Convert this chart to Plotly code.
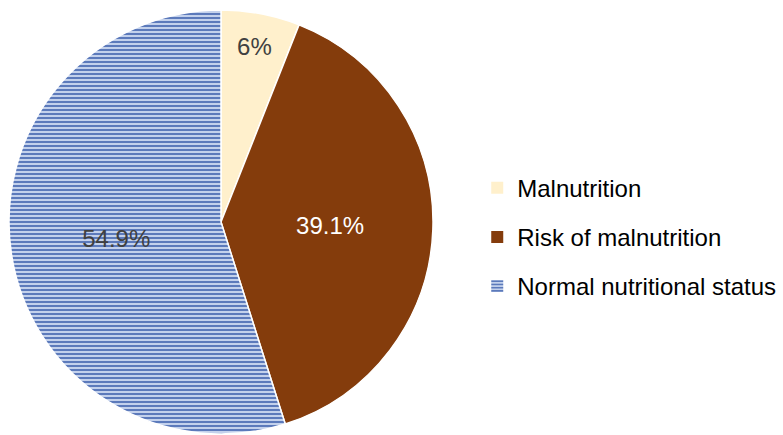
import plotly.graph_objects as go

labels = ["Malnutrition", "Risk of malnutrition", "Normal nutritional status"]
values = [6.0, 39.1, 54.9]
text_labels = ["6%", "39.1%", "54.9%"]

colors = ["#FFF0CC", "#843C0C", "#A9BCE0"]
text_colors = ["#404040", "#FFFFFF", "#404040"]
pattern_shapes = ["", "", "-"]

FONT = "Liberation Sans, Arial"
PAT = dict(fgcolor="#2F55A6", bgcolor="#C3D1EC", size=4, solidity=0.35, fillmode="replace")

fig = go.Figure()
fig.add_trace(go.Pie(
    labels=labels,
    values=values,
    text=text_labels,
    textinfo="text",
    textposition="inside",
    insidetextorientation="horizontal",
    sort=False,
    direction="clockwise",
    rotation=0,
    showlegend=False,
    marker=dict(
        colors=colors,
        line=dict(color="white", width=1.5),
        pattern=dict(shape=pattern_shapes, **PAT),
    ),
    textfont=dict(family=FONT, size=24, color=text_colors),
    domain=dict(x=[9 / 783, 433 / 783], y=[1 / 435, 425 / 435]),
    hoverinfo="label+percent",
))

# legend entries (one group per category so that the gap can be set)
for lab, col, shp in zip(labels, colors, pattern_shapes):
    fig.add_trace(go.Bar(
        x=[None], y=[None], name=lab, legendgroup=lab,
        marker=dict(color=col, line=dict(width=0), pattern=dict(shape=shp, **PAT)),
        showlegend=True, hoverinfo="skip",
    ))

fig.update_layout(
    width=783,
    height=435,
    margin=dict(l=0, r=0, t=0, b=0, autoexpand=False),
    paper_bgcolor="white",
    plot_bgcolor="white",
    font=dict(family=FONT, size=24, color="#000000"),
    xaxis=dict(visible=False),
    yaxis=dict(visible=False),
    legend=dict(
        x=0.6095, y=0.455, xanchor="left", yanchor="middle",
        font=dict(size=24),
        itemwidth=30,
        tracegroupgap=15,
        bgcolor="rgba(0,0,0,0)",
    ),
)

fig.write_html("out.html")
